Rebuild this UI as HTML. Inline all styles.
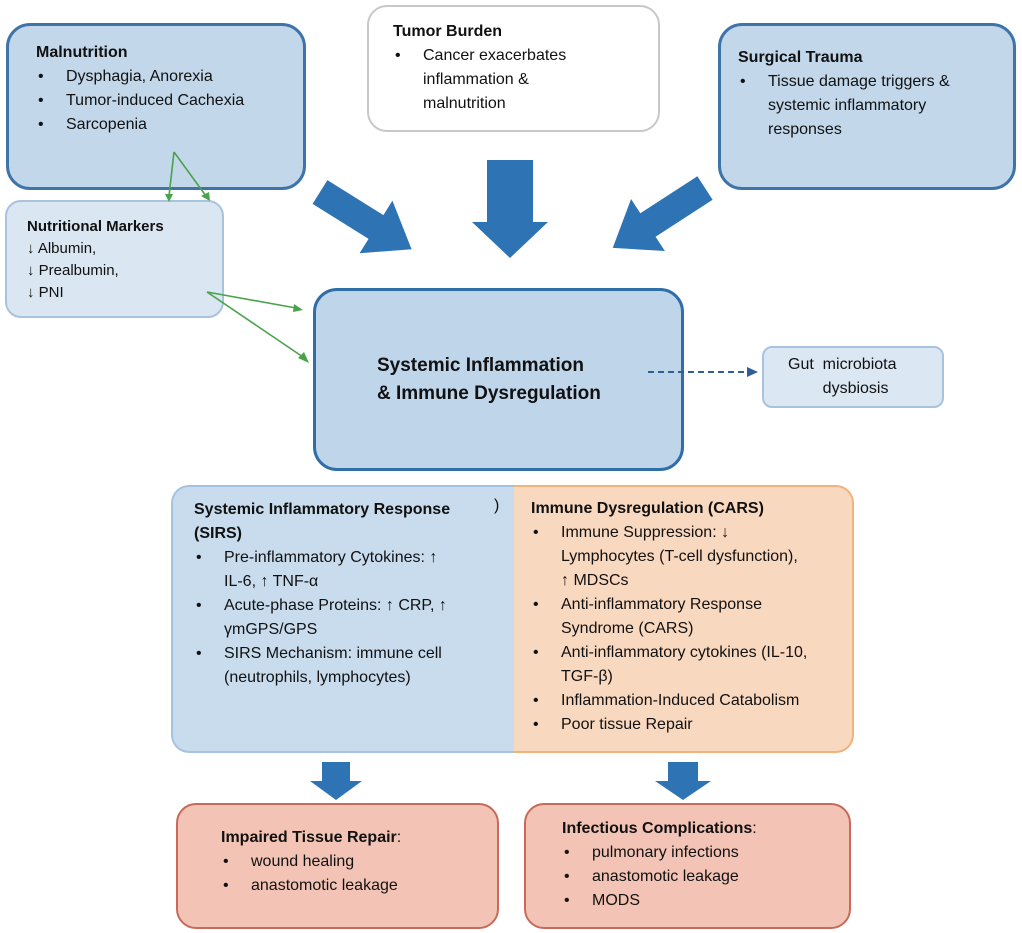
<!DOCTYPE html>
<html><head><meta charset="utf-8"><style>
body{margin:0;width:1022px;height:933px;background:#fff;position:relative;font-family:"Liberation Sans",sans-serif;color:#111;overflow:hidden}
.b{position:absolute;box-sizing:border-box}
.t{position:absolute;font-size:16px;line-height:24px;white-space:nowrap}
.h{font-weight:bold}
ul{margin:0;padding:0;list-style:none}
li{position:relative;padding-left:30px}
li:before{content:"•";position:absolute;left:2px}
</style></head><body>
<div class="b" style="left:6px;top:23px;width:300px;height:167px;background:#c2d7ea;border:3px solid #3f74a8;border-radius:24px"></div>
<div class="t" style="left:36px;top:41px"><div class="h">Malnutrition</div><ul><li>Dysphagia, Anorexia</li><li>Tumor-induced Cachexia</li><li>Sarcopenia</li></ul></div>

<div class="b" style="left:367px;top:5px;width:293px;height:127px;background:#fff;border:2px solid #c8c8c8;border-radius:20px"></div>
<div class="t" style="left:393px;top:20px"><div class="h">Tumor Burden</div><ul><li>Cancer exacerbates<br>inflammation &amp;<br>malnutrition</li></ul></div>

<div class="b" style="left:718px;top:23px;width:298px;height:167px;background:#c2d7ea;border:3px solid #3f74a8;border-radius:24px"></div>
<div class="t" style="left:738px;top:46px"><div class="h">Surgical Trauma</div><ul><li>Tissue damage triggers &amp;<br>systemic inflammatory<br>responses</li></ul></div>

<div class="b" style="left:5px;top:200px;width:219px;height:118px;background:#dae6f2;border:2px solid #a9c3dd;border-radius:16px"></div>
<div class="t" style="left:27px;top:216px;font-size:15px;line-height:22px"><div class="h">Nutritional Markers</div>↓ Albumin,<br>↓ Prealbumin,<br>↓ PNI</div>

<div class="b" style="left:313px;top:288px;width:371px;height:183px;background:#bfd5ea;border:3px solid #2f6ea8;border-radius:24px"></div>
<div class="t h" style="left:377px;top:352px;font-size:19px;line-height:28px">Systemic Inflammation<br>&amp; Immune Dysregulation</div>

<div class="b" style="left:762px;top:346px;width:182px;height:62px;background:#dbe7f3;border:2px solid #a9c3dd;border-radius:10px"></div>
<div class="t" style="left:788px;top:353px;text-align:center">Gut&nbsp; microbiota<br>&nbsp; &nbsp; &nbsp; dysbiosis</div>

<div class="b" style="left:171px;top:485px;width:344px;height:268px;background:#c8dcee;border:2px solid #a5c3e0;border-right:1px solid #333;border-radius:18px 0 0 18px"></div>
<div class="b" style="left:514px;top:485px;width:340px;height:268px;background:#f9d8c0;border:2px solid #f2b27b;border-left:none;border-radius:0 18px 18px 0"></div>
<div class="t" style="left:194px;top:498px"><div class="h">Systemic Inflammatory Response<br>(SIRS)</div><ul><li>Pre-inflammatory Cytokines: ↑<br>IL-6, ↑ TNF-α</li><li>Acute-phase Proteins: ↑ CRP, ↑<br>γmGPS/GPS</li><li>SIRS Mechanism: immune cell<br>(neutrophils, lymphocytes)</li></ul></div>
<div class="t" style="left:494px;top:494px">)</div>
<div class="t" style="left:531px;top:497px"><div class="h">Immune Dysregulation (CARS)</div><ul><li>Immune Suppression: ↓<br>Lymphocytes (T-cell dysfunction),<br>↑ MDSCs</li><li>Anti-inflammatory Response<br>Syndrome (CARS)</li><li>Anti-inflammatory cytokines (IL-10,<br>TGF-β)</li><li>Inflammation-Induced Catabolism</li><li>Poor tissue Repair</li></ul></div>

<div class="b" style="left:176px;top:803px;width:323px;height:126px;background:#f3c3b5;border:2px solid #c86a5a;border-radius:20px"></div>
<div class="t" style="left:221px;top:826px"><span class="h">Impaired Tissue Repair</span>:<ul><li>wound healing</li><li>anastomotic leakage</li></ul></div>
<div class="b" style="left:524px;top:803px;width:327px;height:126px;background:#f3c3b5;border:2px solid #c86a5a;border-radius:20px"></div>
<div class="t" style="left:562px;top:817px"><span class="h">Infectious Complications</span>:<ul><li>pulmonary infections</li><li>anastomotic leakage</li><li>MODS</li></ul></div>

<svg class="b" style="left:0;top:0" width="1022" height="933">
<g fill="#2e74b5">
<polygon points="487,160 533,160 533,222 548,222 510,258 472,222 487,222"/>
<polygon transform="translate(320,192) rotate(32)" points="0,-14 66,-14 66,-31 108,0 66,31 66,14 0,14"/>
<polygon transform="translate(705,188) rotate(147)" points="0,-14 68,-14 68,-31 110,0 68,31 68,14 0,14"/>
<polygon points="322,762 350,762 350,781 362,781 336,800 310,781 322,781"/>
<polygon points="668,762 698,762 698,781 711,781 683,800 655,781 668,781"/>
</g>
<g stroke="#4aa24a" stroke-width="1.6" fill="#4aa24a">
<line x1="174" y1="152" x2="169" y2="196"/><polygon points="165,194 173,194 169,202" stroke="none"/>
<line x1="174" y1="152" x2="206" y2="196"/><polygon points="201,196 209,192 210,201" stroke="none"/>
<line x1="207" y1="292" x2="296" y2="308"/><polygon points="294,304 303,310 293,312" stroke="none"/>
<line x1="207" y1="292" x2="303" y2="357"/><polygon points="298,358 304,352 309,363" stroke="none"/>
</g>
<line x1="648" y1="372" x2="750" y2="372" stroke="#2e5f96" stroke-width="2" stroke-dasharray="6,4"/>
<polygon points="747,367 758,372 747,377" fill="#2e5f96"/>
</svg>
</body></html>
